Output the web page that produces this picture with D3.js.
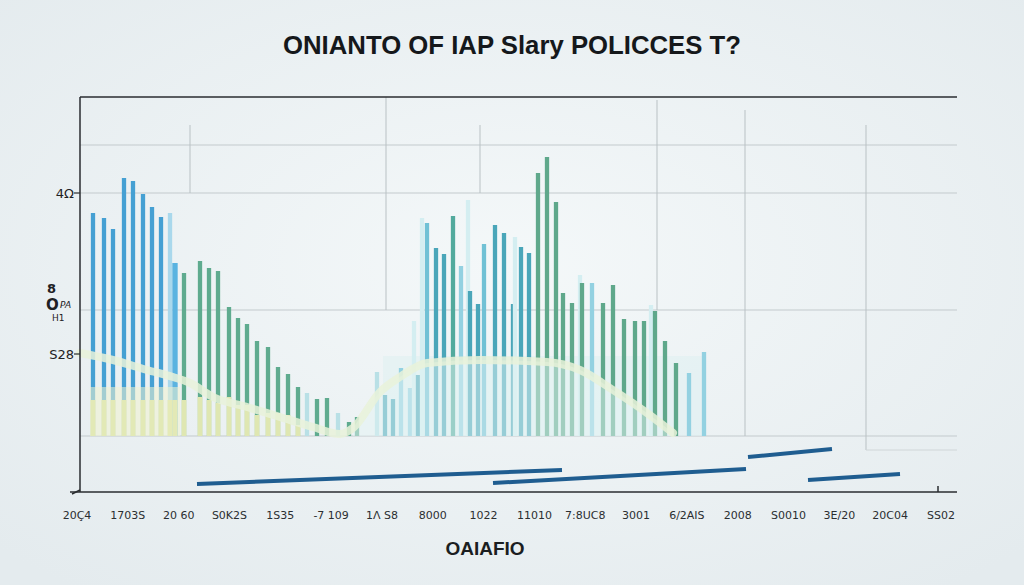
<!DOCTYPE html>
<html><head><meta charset="utf-8">
<script src="https://cdn.jsdelivr.net/npm/d3@7"></script>
<style>html,body{margin:0;padding:0;background:#edf2f4;}svg{display:block}</style>
</head><body>
<svg id="c" width="1024" height="585"></svg>
<script>
// ---------- data ----------
const title = "ONIANTO OF IAP Slary POLICCES T?";
const xTitle = "OAIAFIO";
const xTickLabels = ["20Ç4","1703S","20 60","S0K2S","1S35","-7 109","1Λ S8","8000","1022",
  "11010","7:8UC8","3001","6/2AIS","2008","S0010","3E/20","20C04","SS02"];
const yTickValues = [243, 82];
const yTickLabels = ["4Ω", "S28"];
const gridValues = [291, 243, 126, 0];

// left cluster
const blueX = [13, 24, 33, 44, 53, 63, 72, 81];
const blueV = [223, 218, 207, 258, 255, 242, 229, 219];
const lightBlueX = [90, 95];
const lightBlueV = [223, 173];
const greenLX = [104, 120, 129, 138, 149, 158, 167, 177, 188, 198, 208, 218, 237, 247, 269, 277];
const greenLV = [163, 175, 168, 165, 129, 118, 112, 95, 89, 69, 62, 49, 37, 38, 14, 19];
const paleLX = [227, 258, 297];
const paleLV = [43, 23, 64];
const yellowX = [13, 24, 33, 44, 53, 63, 72, 81, 90, 95, 104, 120, 129, 138, 149, 158, 167, 177, 188, 198, 208, 218];
const yellowV = [36, 36, 36, 36, 36, 36, 36, 36, 36, 36, 36, 39, 36, 33, 39, 31, 31, 21, 23, 23, 21, 11];

// middle cluster
const midX = [305, 313, 321, 330, 334, 338, 342, 347, 356, 364, 373, 381, 388, 390, 398, 404, 415, 424, 433, 435, 441, 449,
  458, 467, 476, 483, 492, 500, 502, 512, 523, 533, 544, 555, 564, 571, 575, 585, 596, 609, 624];
const midV = [41, 37, 68, 48, 115, 61, 218, 213, 188, 182, 220, 170, 236, 145, 132, 192, 211, 203, 132, 199, 189, 183,
  263, 279, 234, 143, 133, 161, 153, 153, 133, 151, 117, 115, 115, 131, 125, 95, 73, 63, 84];
const midKind = ["teal","teal","light","light","vlight","teal","vlight","mid","teal","teal","gteal","light","vlight","teal","teal","mid","teal","teal","teal","vlight","teal","teal",
  "green","green","green","green","green","vlight","green","light","green","green","green","green","green","vlight","green","green","green","light","light"];

// pale curve
const curveX = [0, 33, 67, 93, 110, 133, 167, 200, 233, 260, 273, 300, 320, 347, 400, 467, 500, 533, 567, 593];
const curveV = [83, 76, 66, 59, 53, 39, 29, 19, 9, 2, 8, 44, 59, 73, 76, 74, 66, 46, 23, 3];

// dark trend segments [x0, v0, x1, v1]
const segStartX = [117, 413, 668, 728];
const segStartV = [-48, -47, -21, -44];
const segEndX = [482, 666, 752, 820];
const segEndV = [-34, -33, -13, -38];

// ---------- drawing ----------
const svg = d3.select("#c");
const W = 1024, H = 585;
const x = d3.scaleLinear().domain([0, 877]).range([80, 957]);
const y = d3.scaleLinear().domain([0, 339]).range([436, 97]);
const bw = 4.3;

const defs = svg.append("defs");
const rg = defs.append("radialGradient").attr("id", "bg").attr("cx", "50%").attr("cy", "45%").attr("r", "70%");
rg.append("stop").attr("offset", "0%").attr("stop-color", "#f4f8f9");
rg.append("stop").attr("offset", "100%").attr("stop-color", "#e4ebee");
svg.append("rect").attr("width", W).attr("height", H).attr("fill", "url(#bg)");

// title
svg.append("text").attr("x", 512).attr("y", 54).attr("text-anchor", "middle")
  .attr("font-family", "Liberation Sans, Arial, sans-serif").attr("font-weight", "bold")
  .attr("font-size", 25).attr("fill", "#15181b")
  .attr("textLength", 458).attr("lengthAdjust", "spacingAndGlyphs").text(title);

// grid
svg.append("g").selectAll("line").data(gridValues).join("line")
  .attr("x1", x(0)).attr("x2", x(877)).attr("y1", d => y(d)).attr("y2", d => y(d))
  .attr("stroke", "#c3cacd").attr("stroke-width", 1);
const vGrid = [[110, 311, 243], [306, 339, 126], [400, 311, 243], [577, 336, 126], [665, 326, 0], [786, 311, -14]];
svg.append("g").selectAll("line").data(vGrid).join("line")
  .attr("x1", d => x(d[0])).attr("x2", d => x(d[0])).attr("y1", d => y(d[1])).attr("y2", d => y(d[2]))
  .attr("stroke", "#b9c1c4").attr("stroke-width", 1);
svg.append("line").attr("x1", x(786)).attr("x2", x(877)).attr("y1", y(-14)).attr("y2", y(-14))
  .attr("stroke", "#d0d6d8");

function bars(xs, vs, color, w, op) {
  svg.append("g").selectAll("rect").data(xs.map((d, i) => [d, vs[i]])).join("rect")
    .attr("x", d => x(d[0]) - w / 2).attr("y", d => y(d[1])).attr("width", w)
    .attr("height", d => y(0) - y(d[1])).attr("fill", color).attr("opacity", op || 1);
}

// middle cluster background wash
svg.append("rect").attr("x", x(303)).attr("y", y(80)).attr("width", x(625) - x(303)).attr("height", y(0) - y(80))
  .attr("fill", "#dff0f1").attr("opacity", 0.6);

// left cluster
bars(blueX, blueV, "#45a0d3", bw);
bars(lightBlueX, lightBlueV, "#a9d8ec", bw);
bars([95], [173], "#5ab3e0", bw + 1);
bars(greenLX, greenLV, "#5fab8f", bw);
bars(paleLX, paleLV, "#b9e0e6", bw);
svg.append("rect").attr("x", x(10)).attr("y", y(49)).attr("width", x(100) - x(10)).attr("height", y(0) - y(49))
  .attr("fill", "#f0f2cf").attr("opacity", 0.55);
bars(yellowX, yellowV, "#e6eab4", bw + 0.6, 0.95);

// middle cluster
const kindColor = {teal: "#4aa6b9", light: "#93d1e1", vlight: "#d4eef1", mid: "#70c1d5", green: "#5fa88b", gteal: "#52aa9d"};
svg.append("g").selectAll("rect").data(midX.map((d, i) => [d, midV[i], midKind[i]])).join("rect")
  .attr("x", d => x(d[0]) - bw / 2).attr("y", d => y(d[1])).attr("width", bw)
  .attr("height", d => y(0) - y(d[1])).attr("fill", d => kindColor[d[2]]);

// wash below the curve in the middle
const area = d3.area().x(d => x(d[0])).y0(y(0)).y1(d => y(d[1])).curve(d3.curveMonotoneX);
const cpts = curveX.map((d, i) => [d, curveV[i]]);
svg.append("path").datum(cpts.filter(d => d[0] >= 273)).attr("d", area)
  .attr("fill", "#e4f4f4").attr("opacity", 0.5);

// pale curve
const line = d3.line().x(d => x(d[0])).y(d => y(d[1])).curve(d3.curveMonotoneX);
svg.append("path").datum(cpts).attr("d", line).attr("fill", "none")
  .attr("stroke", "#e9f2d9").attr("stroke-width", 8).attr("stroke-linecap", "round").attr("opacity", 0.85);

// trend segments
svg.append("g").selectAll("line").data(segStartX.map((d, i) => i)).join("line")
  .attr("x1", i => x(segStartX[i])).attr("y1", i => y(segStartV[i]))
  .attr("x2", i => x(segEndX[i])).attr("y2", i => y(segEndV[i]))
  .attr("stroke", "#1f5d90").attr("stroke-width", 4).attr("stroke-linecap", "butt");

// axes
const ax = svg.append("g").attr("stroke", "#2a2d30");
ax.append("line").attr("x1", x(0)).attr("x2", x(877)).attr("y1", y(339)).attr("y2", y(339)).attr("stroke-width", 1.5);
ax.append("line").attr("x1", x(0)).attr("x2", x(0)).attr("y1", y(339)).attr("y2", 492).attr("stroke-width", 1.5);
ax.append("line").attr("x1", 70).attr("x2", x(877)).attr("y1", 492).attr("y2", 492).attr("stroke-width", 1.5);
ax.append("line").attr("x1", 938).attr("x2", 938).attr("y1", 486).attr("y2", 492).attr("stroke-width", 1.5);
ax.append("line").attr("x1", 72).attr("x2", 80).attr("y1", 494).attr("y2", 490).attr("stroke-width", 1.5);

// y ticks
const yt = svg.append("g");
yt.selectAll("line").data(yTickValues).join("line")
  .attr("x1", 74).attr("x2", 80).attr("y1", d => y(d)).attr("y2", d => y(d)).attr("stroke", "#2a2d30").attr("stroke-width", 1.2);
yt.selectAll("text").data(yTickValues).join("text")
  .attr("x", 74).attr("y", d => y(d) + 4.5).attr("text-anchor", "end")
  .attr("font-family", "DejaVu Sans, sans-serif").attr("font-size", 13).attr("fill", "#1e2124")
  .text((d, i) => yTickLabels[i]);
const odd = svg.append("g").attr("font-family", "DejaVu Sans, sans-serif").attr("fill", "#1e2124");
odd.append("text").attr("x", 47).attr("y", 293).attr("font-size", 13).attr("font-weight", "bold").text("8");
odd.append("text").attr("x", 46).attr("y", 310).attr("font-size", 15).attr("font-weight", "bold").text("O");
odd.append("text").attr("x", 60).attr("y", 308).attr("font-size", 9).attr("font-style", "italic").text("PA");
odd.append("text").attr("x", 52).attr("y", 321).attr("font-size", 9).text("H1");

// x tick labels
const xb = d3.scaleLinear().domain([0, xTickLabels.length - 1]).range([77, 941]);
svg.append("g").selectAll("text").data(xTickLabels).join("text")
  .attr("x", (d, i) => xb(i)).attr("y", 519).attr("text-anchor", "middle")
  .attr("font-family", "DejaVu Sans, sans-serif").attr("font-size", 11).attr("fill", "#2b2e31")
  .text(d => d);

// x title
svg.append("text").attr("x", 485).attr("y", 555).attr("text-anchor", "middle")
  .attr("font-family", "Liberation Sans, Arial, sans-serif").attr("font-weight", "bold")
  .attr("font-size", 19).attr("fill", "#1b1e21").text(xTitle);
</script>
</body></html>
